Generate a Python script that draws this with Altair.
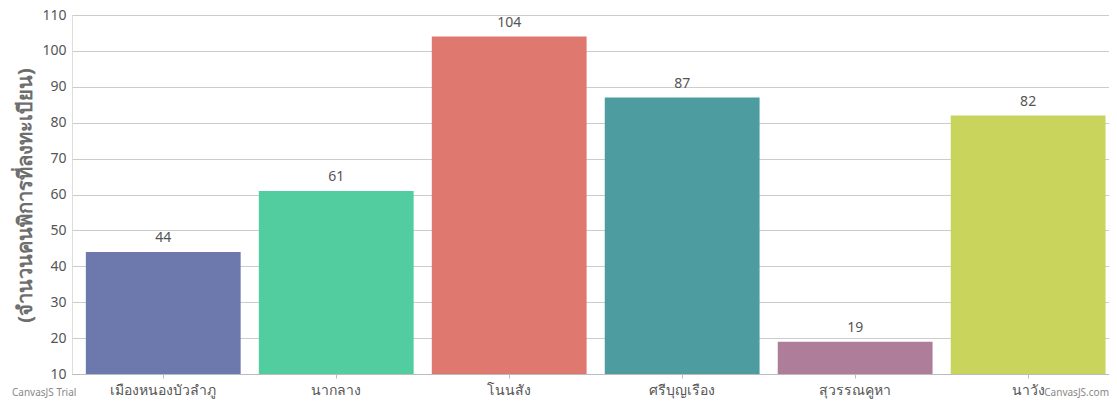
import altair as alt
import pandas as pd

categories = ["เมืองหนองบัวลำภู", "นากลาง", "โนนสัง", "ศรีบุญเรือง", "สุวรรณคูหา", "นาวัง"]
values = [44, 61, 104, 87, 19, 82]
colors = ["#6D78AD", "#51CDA0", "#DF7970", "#4C9CA0", "#AE7D99", "#C9D45C"]
y_ticks = [10, 20, 30, 40, 50, 60, 70, 80, 90, 100, 110]
y_title = "(จำนวนคนพิการที่ลงทะเบียน)"

df = pd.DataFrame({"cat": categories, "value": values, "color": colors, "base": [10] * len(values)})

FONT = "Noto Sans"

x = alt.X(
    "cat:N",
    sort=categories,
    scale=alt.Scale(paddingInner=0.105, paddingOuter=0.05, align=0.8),
    axis=alt.Axis(
        title=None,
        labelAngle=0,
        labelFontSize=14,
        labelColor="#555555",
        labelFont=FONT,
        labelPadding=5,
        tickSize=4,
        tickColor="#bbbbbb",
        domainColor="#bbbbbb",
        grid=False,
    ),
)
y = alt.Y(
    "value:Q",
    scale=alt.Scale(domain=[10, 110], nice=False, zero=False),
    axis=alt.Axis(
        values=y_ticks,
        tickCount=11,
        labelOverlap=False,
        labelFlush=False,
        title=y_title,
        titleFontSize=20,
        titleFont=FONT,
        titleFontWeight="bold",
        titleColor="#6e6e6e",
        titleAngle=270,
        titleX=-47,
        titleY=180,
        titleAlign="center",
        titleBaseline="middle",
        labelFontSize=14,
        labelColor="#555555",
        labelFont=FONT,
        labelPadding=6,
        tickSize=0,
        domain=False,
        gridColor="#cccccc",
        gridWidth=1,
    ),
)

bars = alt.Chart(df).mark_bar().encode(
    x=x,
    y=y,
    y2=alt.Y2("base:Q"),
    color=alt.Color("color:N", scale=None, legend=None),
)

labels = alt.Chart(df).mark_text(
    baseline="bottom", dy=-7, fontSize=14, color="#555555", font=FONT
).encode(x=alt.X("cat:N", sort=categories), y="value:Q", text="value:Q")

wm = pd.DataFrame({"t": ["CanvasJS Trial", "CanvasJS.com"]})
wm_left = alt.Chart(wm.iloc[[0]]).mark_text(
    align="left", baseline="bottom", fontSize=10, color="#888888", font=FONT
).encode(x=alt.value(-60), y=alt.value(383), text="t:N")
wm_right = alt.Chart(wm.iloc[[1]]).mark_text(
    align="right", baseline="bottom", fontSize=10, color="#888888", font=FONT
).encode(x=alt.value(1037), y=alt.value(383), text="t:N")

chart = (
    alt.layer(bars, labels, wm_left, wm_right)
    .properties(
        width=1037,
        height=359,
        autosize=alt.AutoSizeParams(type="none"),
        padding={"left": 64, "top": 7, "right": 0, "bottom": 25},
    )
    .configure_view(stroke=None)
    .configure(background="white")
)

chart.save("out.html", embed_options={"renderer": "svg", "actions": False})
